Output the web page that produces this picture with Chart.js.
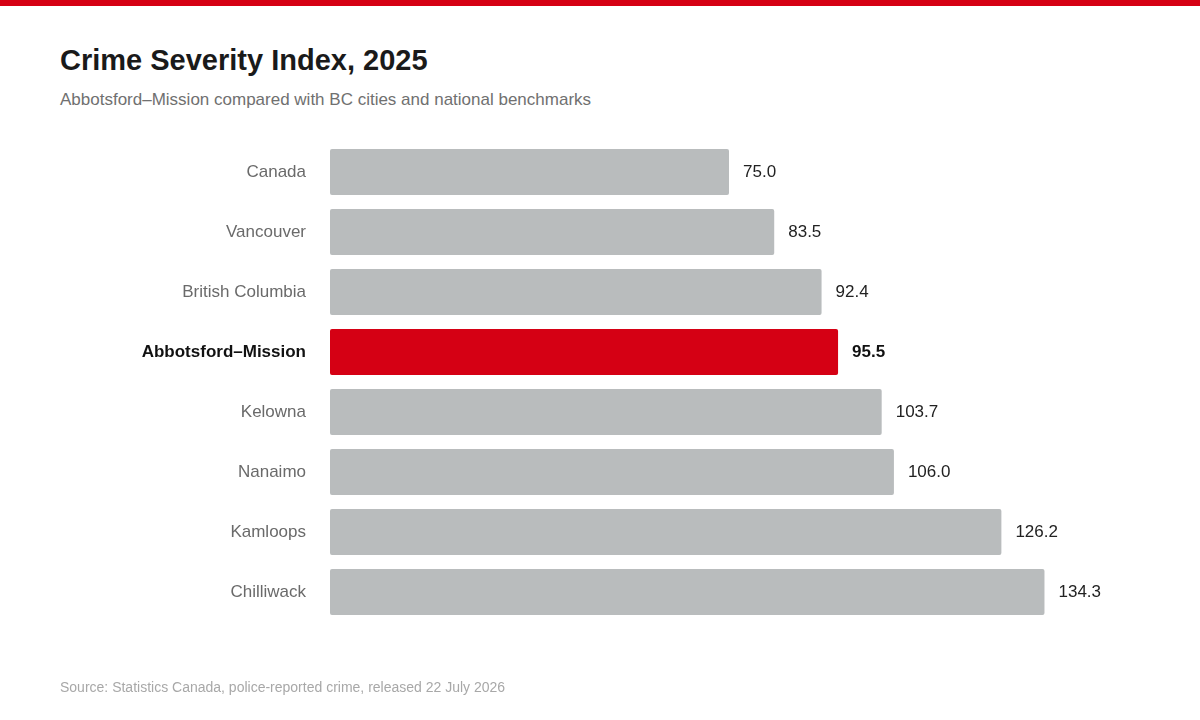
<!DOCTYPE html>
<html>
<head>
<meta charset="utf-8">
<script src="https://cdn.jsdelivr.net/npm/chart.js@4/dist/chart.umd.min.js"></script>
<style>
  body { margin: 0; width: 1200px; height: 720px; background: #fff; font-family: "Liberation Sans", Arial, sans-serif; overflow: hidden; }
  .topbar { position: absolute; left: 0; top: 0; width: 1200px; height: 6px; background: #d50014; }
  h1 { position: absolute; left: 60px; top: 44px; margin: 0; font-size: 29px; font-weight: bold; color: #1a1a1a; }
  .sub { position: absolute; left: 60px; top: 90px; font-size: 17px; color: #707070; }
  .src { position: absolute; left: 60px; top: 679px; font-size: 14px; color: #a8a8a8; }
  #wrap { position: absolute; left: 0; top: 0; width: 1200px; height: 720px; }
</style>
</head>
<body>
<div class="topbar"></div>
<h1>Crime Severity Index, 2025</h1>
<div class="sub">Abbotsford–Mission compared with BC cities and national benchmarks</div>
<div id="wrap"><canvas id="chart"></canvas></div>
<div class="src">Source: Statistics Canada, police-reported crime, released 22 July 2026</div>
<script>
const categories = ['Canada', 'Vancouver', 'British Columbia', 'Abbotsford–Mission', 'Kelowna', 'Nanaimo', 'Kamloops', 'Chilliwack'];
const severity = [75.0, 83.5, 92.4, 95.5, 103.7, 106.0, 126.2, 134.3];
const highlight = 'Abbotsford–Mission';

const isHi = (i) => categories[i] === highlight;

// Etiquetas de valor à direita das barras
const valueLabels = {
  id: 'valueLabels',
  afterDatasetsDraw(chart) {
    const ctx = chart.ctx;
    const meta = chart.getDatasetMeta(0);
    ctx.save();
    ctx.textBaseline = 'middle';
    meta.data.forEach((bar, i) => {
      ctx.font = (isHi(i) ? 'bold ' : '') + '17px "Liberation Sans", Arial, sans-serif';
      ctx.fillStyle = isHi(i) ? '#111' : '#222';
      ctx.fillText(severity[i].toFixed(1), bar.x + 14, bar.y);
    });
    ctx.restore();
  }
};

new Chart(document.getElementById('chart'), {
  type: 'bar',
  data: {
    labels: categories,
    datasets: [{
      data: severity,
      backgroundColor: categories.map((c, i) => isHi(i) ? '#d50014' : '#b9bcbd'),
      borderRadius: 2,
      borderSkipped: false,
      barPercentage: 0.77,
      categoryPercentage: 1.0
    }]
  },
  options: {
    indexAxis: 'y',
    responsive: true,
    maintainAspectRatio: false,
    animation: false,
    layout: { padding: { top: 142, bottom: 98, left: 0, right: 72 } },
    plugins: { legend: { display: false }, tooltip: { enabled: false } },
    scales: {
      x: { display: false, min: 0, max: 150 },
      y: {
        grid: { display: false },
        border: { display: false },
        afterFit(scale) { scale.width = 330; },
        ticks: {
          padding: 16,
          font: (c) => ({ size: 17, family: '"Liberation Sans", Arial, sans-serif', weight: isHi(c.index) ? 'bold' : 'normal' }),
          color: (c) => isHi(c.index) ? '#111' : '#6a6a6a'
        }
      }
    }
  },
  plugins: [valueLabels]
});
</script>
</body>
</html>
